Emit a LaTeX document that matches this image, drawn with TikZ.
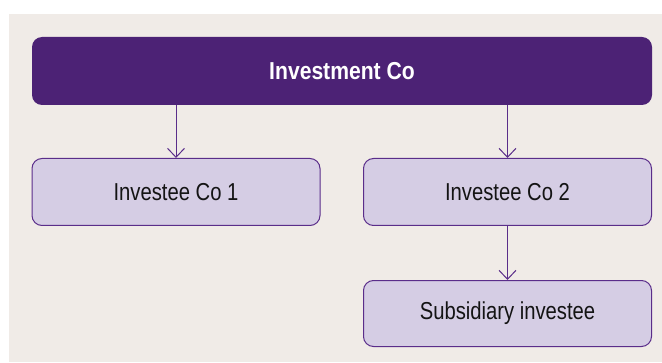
\documentclass[tikz,border=0pt]{standalone}
\usepackage{fontspec}
\setmainfont[FakeStretch=0.826,BoldFeatures={FakeStretch=0.862}]{Liberation Sans}
\usetikzlibrary{positioning}
\usetikzlibrary{arrows.meta}
\definecolor{pagebg}{HTML}{F0EBE7}
\definecolor{darkpurple}{HTML}{4C2275}
\definecolor{linepurple}{HTML}{5A2D8A}
\definecolor{boxfill}{HTML}{D5CDE4}
\definecolor{textgrey}{HTML}{141414}

\begin{document}
\begin{tikzpicture}[->,>={Straight Barb[length=9pt,width=17pt]},line width=1pt,
			node distance=121pt]
			\tikzstyle{topbox}=[fill=darkpurple,draw=none,rounded corners=10pt,minimum width=620pt,
				minimum height=68pt,text=white,font=\fontsize{24.5pt}{28pt}\selectfont\bfseries]
			\tikzstyle{cobox}=[fill=boxfill,draw=linepurple,rounded corners=10pt,minimum width=288pt,
				minimum height=67pt,text=textgrey,font=\fontsize{24.5pt}{28pt}\selectfont]
			
			\useasboundingbox (0,0) rectangle (662pt,362pt);
			\fill[white] (0,0) rectangle (662pt,362pt);
			\fill[pagebg] (9pt,0) rectangle (662pt,348pt);
			
			\node[topbox]  (inv) at (342pt,291pt)               {Investment Co};
			\node[cobox]   (co1) [below of=inv,xshift=-166pt]  {Investee Co 1};
			\node[cobox]   (co2) [right of=co1,xshift=210.5pt] {Investee Co 2};
			\node[cobox]   (sub) [below of=co2,yshift=-0.5pt,minimum height=66pt] {Subsidiary investee};
			
			\draw[linepurple] (co1 |- inv.south) -- (co1.north);
			\draw[linepurple] (co2 |- inv.south) -- (co2.north);
			\draw[linepurple] (co2.south) -- (sub.north);
\end{tikzpicture}
\end{document}
